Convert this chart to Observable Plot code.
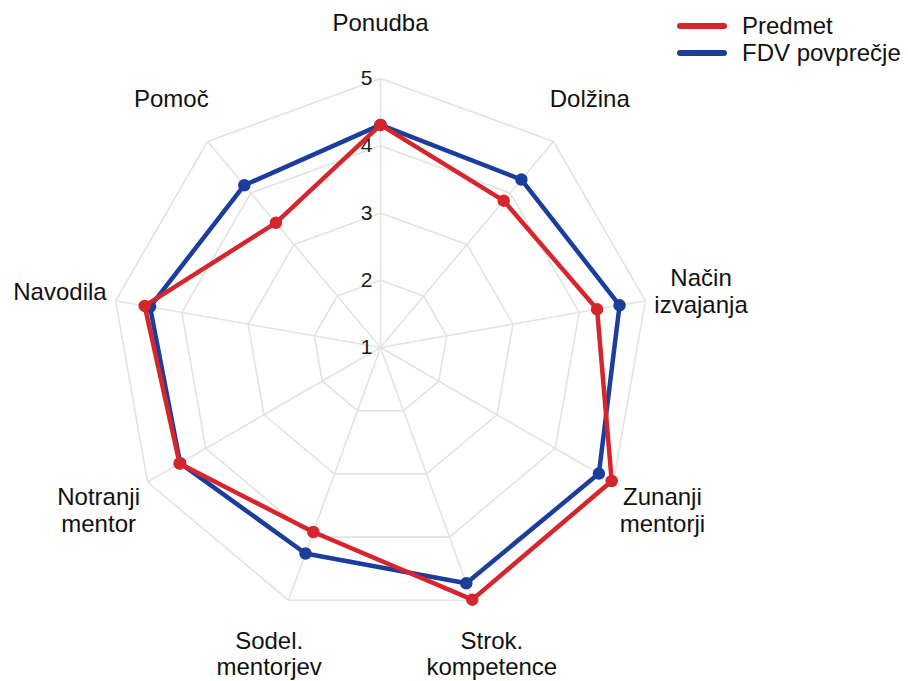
<!DOCTYPE html>
<html>
<head>
<meta charset="utf-8">
<script src="https://cdn.jsdelivr.net/npm/d3@7"></script>
<script src="https://cdn.jsdelivr.net/npm/@observablehq/plot@0.6"></script>
<style>
  html, body { margin: 0; padding: 0; background: #fff; }
  #wrap { position: relative; width: 908px; height: 681px; }
  #legend { position: absolute; left: 676px; top: 12px; font-family: "Liberation Sans", Arial, sans-serif; font-size: 24px; color: #111; }
  #legend .row { display: flex; align-items: center; height: 27px; }
  #legend svg { margin-right: 14px; }
</style>
</head>
<body>
<div id="wrap">
  <div id="chart"></div>
  <div id="legend"></div>
</div>
<script>
const categories = ["Ponudba", "Dolžina", "Način\nizvajanja", "Zunanji\nmentorji", "Strok.\nkompetence", "Sodel.\nmentorjev", "Notranji\nmentor", "Navodila", "Pomoč"];
const predmet = [4.31, 3.85, 4.27, 4.97, 4.99, 3.92, 4.45, 4.56, 3.42];
const fdvPovprecje = [4.31, 4.26, 4.61, 4.75, 4.73, 4.26, 4.44, 4.48, 4.15];
const levels = [1, 2, 3, 4, 5];
const seriesNames = ["Predmet", "FDV povprečje"];
const seriesColors = ["#d4262c", "#1b3d9c"];

const minV = 1, maxV = 5, labelV = 5.84;
const n = categories.length;
const angle = i => (2 * Math.PI * i) / n;
const px = (v, i) => (v - minV) * Math.sin(angle(i));
const py = (v, i) => (v - minV) * Math.cos(angle(i));

const W = 908, H = 681, cx = 380, cy = 347, k = 67.25;

const rings = levels.filter(l => l > minV).flatMap(l => categories.map((c, i) => ({level: l, i})));
const spokes = categories.map((c, i) => ({i}));
const series = [
  {name: seriesNames[1], values: fdvPovprecje, color: seriesColors[1]},
  {name: seriesNames[0], values: predmet, color: seriesColors[0]}
];
const pts = series.flatMap(s => s.values.map((v, i) => ({name: s.name, v, i, color: s.color})));
const font = "Liberation Sans, Arial, sans-serif";

const marks = [
  Plot.line(rings, {x: d => px(d.level, d.i), y: d => py(d.level, d.i), z: "level", curve: "linear-closed", stroke: "#e3e3e3", strokeWidth: 1.6}),
  Plot.link(spokes, {x1: 0, y1: 0, x2: d => px(maxV, d.i), y2: d => py(maxV, d.i), stroke: "#e3e3e3", strokeWidth: 1.6}),
  Plot.text(levels, {x: 0, y: d => d - minV, text: d => String(d), dx: -14, fontSize: 21, fill: "#1a1a1a", textAnchor: "middle", fontFamily: font}),
];
for (const s of series) {
  const data = pts.filter(d => d.name === s.name);
  marks.push(Plot.line(data, {x: d => px(d.v, d.i), y: d => py(d.v, d.i), curve: "linear-closed", stroke: s.color, strokeWidth: 4.5, strokeLinejoin: "round"}));
  marks.push(Plot.dot(data, {x: d => px(d.v, d.i), y: d => py(d.v, d.i), r: 5.5, fill: s.color, stroke: s.color}));
}
marks.push(Plot.text(categories, {x: (d, i) => px(labelV, i), y: (d, i) => py(labelV, i), text: d => d, fontSize: 24, lineHeight: 1.12, fill: "#111", textAnchor: "middle", lineAnchor: "middle", fontFamily: font}));

const chart = Plot.plot({
  width: W, height: H,
  margin: 0,
  x: {domain: [-cx / k, (W - cx) / k], range: [0, W], axis: null},
  y: {domain: [-(H - cy) / k, cy / k], range: [H, 0], axis: null},
  marks
});
document.getElementById("chart").appendChild(chart);

const legend = document.getElementById("legend");
seriesNames.forEach((name, j) => {
  const row = document.createElement("div");
  row.className = "row";
  row.innerHTML = `<svg width="52" height="10"><line x1="4" y1="5" x2="48" y2="5" stroke="${seriesColors[j]}" stroke-width="6" stroke-linecap="round"/></svg><span>${name}</span>`;
  legend.appendChild(row);
});
</script>
</body>
</html>
